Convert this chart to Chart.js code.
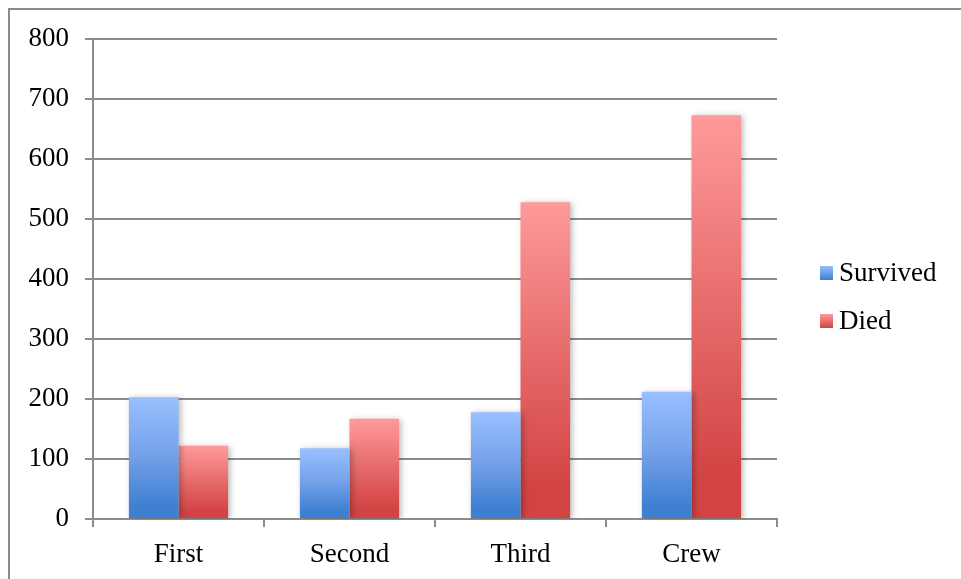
<!DOCTYPE html>
<html>
<head>
<meta charset="utf-8">
<script src="https://cdn.jsdelivr.net/npm/chart.js@4/dist/chart.umd.min.js"></script>
<style>
  html, body { margin: 0; padding: 0; background: #fff; }
  #wrap { position: relative; width: 961px; height: 579px; }
  canvas { display: block; }
</style>
</head>
<body>
<div id="wrap"><canvas id="c" width="961" height="579"></canvas></div>
<script>
// Passengers and crew by class
const classes = ["First", "Second", "Third", "Crew"];
const survived = [203, 118, 178, 212];
const died = [122, 167, 528, 673];
const seriesNames = ["Survived", "Died"];
const yTicks = [0, 100, 200, 300, 400, 500, 600, 700, 800];

const FONT = "'Liberation Serif', 'DejaVu Serif', serif";
const FONT_SIZE = 27;
const GRID = "#8c8c8c";

// Vertical gradient per bar, running from the bar's top down to the baseline
function barGradient(light, mid, dark) {
  return (ctx) => {
    const chart = ctx.chart;
    const y = chart.scales.y;
    if (!y || ctx.type !== 'data') return light;
    const v = ctx.raw;
    const top = y.getPixelForValue(v);
    const base = y.getPixelForValue(0);
    if (!isFinite(top) || !isFinite(base) || top === base) return light;
    const g = chart.ctx.createLinearGradient(0, top, 0, base);
    g.addColorStop(0, light);
    g.addColorStop(0.45, mid);
    g.addColorStop(0.9, dark);
    g.addColorStop(1, dark);
    return g;
  };
}

// Soft drop shadow behind the bars
const barShadow = {
  id: 'barShadow',
  beforeDatasetsDraw(chart) {
    const c = chart.ctx;
    c.save();
    c.shadowColor = 'rgba(0,0,0,0.28)';
    c.shadowBlur = 6;
    c.shadowOffsetX = 2;
    c.shadowOffsetY = 1;
  },
  afterDatasetsDraw(chart) {
    chart.ctx.restore();
  }
};

// Frame lines along the top and left of the figure
const frame = {
  id: 'frame',
  beforeDraw(chart) {
    const c = chart.ctx;
    c.save();
    c.strokeStyle = '#8a8a8a';
    c.lineWidth = 2;
    c.beginPath();
    c.moveTo(9, chart.height);
    c.lineTo(9, 9);
    c.lineTo(chart.width, 9);
    c.stroke();
    c.restore();
  }
};

// Legend at the right, one swatch + label per series
const sideLegend = {
  id: 'sideLegend',
  afterDraw(chart) {
    const c = chart.ctx;
    const swatches = [
      ['#99bfff', '#3f7fd2'],
      ['#ff9a9a', '#d24343']
    ];
    const ys = [273, 321];
    c.save();
    c.font = FONT_SIZE + "px " + FONT;
    c.textBaseline = 'middle';
    chart.data.datasets.forEach((ds, i) => {
      const x = 820, y = ys[i];
      const g = c.createLinearGradient(0, y - 7, 0, y + 7);
      g.addColorStop(0, swatches[i][0]);
      g.addColorStop(1, swatches[i][1]);
      c.fillStyle = g;
      c.fillRect(x, y - 7, 13, 14);
      c.fillStyle = '#000';
      c.fillText(ds.label, x + 19, y + 1);
    });
    c.restore();
  }
};

new Chart(document.getElementById('c'), {
  type: 'bar',
  data: {
    labels: classes,
    datasets: [
      {
        label: seriesNames[0],
        data: survived,
        backgroundColor: barGradient('#99bfff', '#77a3ea', '#3f7fd2'),
        borderWidth: 0
      },
      {
        label: seriesNames[1],
        data: died,
        backgroundColor: barGradient('#ff9a9a', '#e86e6e', '#d24343'),
        borderWidth: 0
      }
    ]
  },
  plugins: [frame, barShadow, sideLegend],
  options: {
    responsive: false,
    animation: false,
    devicePixelRatio: 1,
    layout: { padding: { top: 39, right: 184, left: 0, bottom: 0 } },
    datasets: {
      bar: { barPercentage: 1.0, categoryPercentage: 0.58 }
    },
    plugins: {
      legend: { display: false },
      tooltip: { enabled: false }
    },
    scales: {
      x: {
        offset: true,
        grid: {
          display: true,
          drawOnChartArea: false,
          drawTicks: true,
          tickLength: 8,
          offset: true,
          color: GRID,
          lineWidth: 2
        },
        border: { display: true, color: GRID, width: 2 },
        ticks: {
          color: '#000',
          font: { family: FONT, size: FONT_SIZE },
          padding: 12
        },
        afterFit(scale) { scale.height = 60; }
      },
      y: {
        min: 0,
        max: 800,
        afterBuildTicks(scale) {
          scale.ticks = yTicks.map(v => ({ value: v }));
        },
        grid: {
          color: GRID,
          lineWidth: 2,
          tickLength: 8,
          drawTicks: true
        },
        border: { display: true, color: GRID, width: 2 },
        ticks: {
          color: '#000',
          font: { family: FONT, size: FONT_SIZE },
          padding: 16
        },
        afterFit(scale) { scale.width = 93; }
      }
    }
  }
});
</script>
</body>
</html>
